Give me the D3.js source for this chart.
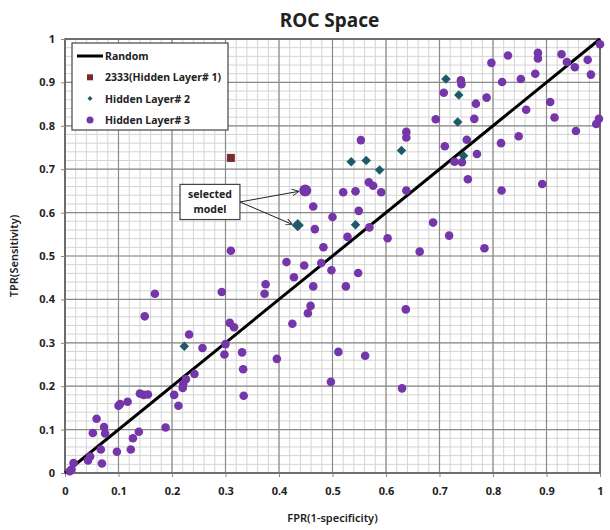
<!DOCTYPE html>
<html>
<head>
<meta charset="utf-8">
<script src="https://cdn.jsdelivr.net/npm/d3@7"></script>
<style>
  html, body { margin: 0; padding: 0; background: #fff; overflow: hidden; }
  svg { display: block; }
  text { font-family: "Noto Sans", "Open Sans", sans-serif; fill: #222; }
</style>
</head>
<body>
<div id="chart"></div>
<script>
"use strict";

// Data: [FPR, TPR]
const layer1 = [[0.31, 0.726]];

const layer2 = [
  [0.535, 0.717], [0.563, 0.72], [0.588, 0.698], [0.629, 0.743], [0.543, 0.572],
  [0.712, 0.908], [0.736, 0.871], [0.734, 0.809], [0.745, 0.731], [0.223, 0.292]
];

const layer3 = [
  [0.31, 0.512], [0.553, 0.767], [0.638, 0.786], [0.638, 0.773], [0.568, 0.67],
  [0.576, 0.662], [0.591, 0.647], [0.638, 0.651], [0.52, 0.647], [0.543, 0.649],
  [0.464, 0.614], [0.549, 0.604], [0.5, 0.59], [0.467, 0.562], [0.569, 0.566],
  [0.528, 0.544], [0.603, 0.541], [0.483, 0.52], [0.663, 0.51], [1.0, 0.988],
  [0.828, 0.962], [0.884, 0.968], [0.884, 0.955], [0.928, 0.965], [0.938, 0.947],
  [0.953, 0.935], [0.977, 0.952], [0.983, 0.918], [0.797, 0.945], [0.879, 0.92],
  [0.852, 0.908], [0.817, 0.901], [0.74, 0.905], [0.741, 0.896], [0.708, 0.876],
  [0.788, 0.865], [0.768, 0.851], [0.907, 0.855], [0.862, 0.837], [0.693, 0.815],
  [0.765, 0.816], [0.915, 0.819], [0.998, 0.816], [0.993, 0.804], [0.955, 0.788],
  [0.751, 0.768], [0.848, 0.776], [0.815, 0.76], [0.71, 0.753], [0.77, 0.735],
  [0.728, 0.717], [0.742, 0.716], [0.753, 0.677], [0.816, 0.651], [0.892, 0.666],
  [0.688, 0.577], [0.718, 0.547], [0.784, 0.518],
  [0.414, 0.486], [0.447, 0.478], [0.479, 0.484], [0.498, 0.467], [0.548, 0.461],
  [0.428, 0.451], [0.375, 0.435], [0.373, 0.413], [0.464, 0.43], [0.525, 0.43],
  [0.459, 0.385], [0.454, 0.368], [0.425, 0.344], [0.637, 0.377], [0.331, 0.278],
  [0.396, 0.263], [0.511, 0.279], [0.561, 0.27], [0.333, 0.239], [0.497, 0.21],
  [0.334, 0.178], [0.63, 0.195],
  [0.168, 0.413], [0.293, 0.417], [0.149, 0.361], [0.232, 0.319], [0.257, 0.288],
  [0.308, 0.346], [0.316, 0.336], [0.3, 0.297], [0.298, 0.273], [0.242, 0.228],
  [0.226, 0.216], [0.221, 0.205], [0.22, 0.196], [0.204, 0.18], [0.212, 0.155],
  [0.14, 0.183], [0.147, 0.18], [0.155, 0.181], [0.1, 0.155], [0.103, 0.159],
  [0.117, 0.164], [0.188, 0.105], [0.059, 0.125], [0.073, 0.106], [0.052, 0.092],
  [0.075, 0.091], [0.138, 0.095], [0.127, 0.08], [0.067, 0.054], [0.097, 0.049],
  [0.123, 0.054], [0.047, 0.038], [0.043, 0.029], [0.069, 0.022], [0.016, 0.023],
  [0.012, 0.008], [0.009, 0.004]
];

// the two "selected model" points
const selected2 = [0.435, 0.571];
const selected3 = [0.449, 0.651];

const randomLine = [[0, 0], [1, 1]];
const tickValues = d3.range(0, 11).map((i) => i / 10);
const minorValues = d3.range(0, 51).map((i) => i / 50);

const legendItems = ["Random", "2333(Hidden Layer# 1)", "Hidden Layer# 2", "Hidden Layer# 3"];

const colors = { l1: "#7b2a2c", l2: "#1f5a68", l3: "#7436a8" };

// Dimensions
const w = 610;
const h = 530;
const margin = { top: 39, left: 65, right: 10, bottom: 57 };
const innerWidth = 535;
const innerHeight = 434;

const svg = d3.select("#chart").append("svg").attr("width", w).attr("height", h);

const x = d3.scaleLinear().domain([0, 1]).range([0, innerWidth]);
const y = d3.scaleLinear().domain([0, 1]).range([innerHeight, 0]);

const g = svg.append("g").attr("transform", `translate(${margin.left}, ${margin.top})`);

// minor grid
g.append("g")
  .selectAll("line")
  .data(minorValues)
  .enter()
  .append("line")
  .attr("x1", (d) => x(d)).attr("x2", (d) => x(d))
  .attr("y1", 0).attr("y2", innerHeight)
  .attr("stroke", "#d4d4d4").attr("stroke-width", 1);
g.append("g")
  .selectAll("line")
  .data(minorValues)
  .enter()
  .append("line")
  .attr("y1", (d) => y(d)).attr("y2", (d) => y(d))
  .attr("x1", 0).attr("x2", innerWidth)
  .attr("stroke", "#d4d4d4").attr("stroke-width", 1);

// major grid
g.append("g")
  .selectAll("line")
  .data(tickValues)
  .enter()
  .append("line")
  .attr("x1", (d) => x(d)).attr("x2", (d) => x(d))
  .attr("y1", 0).attr("y2", innerHeight)
  .attr("stroke", "#8a8a8a").attr("stroke-width", 1.2);
g.append("g")
  .selectAll("line")
  .data(tickValues)
  .enter()
  .append("line")
  .attr("y1", (d) => y(d)).attr("y2", (d) => y(d))
  .attr("x1", 0).attr("x2", innerWidth)
  .attr("stroke", "#8a8a8a").attr("stroke-width", 1.2);

// frame
g.append("rect")
  .attr("width", innerWidth).attr("height", innerHeight)
  .attr("fill", "none").attr("stroke", "#555").attr("stroke-width", 1.5);

// axes
const xAxis = g.append("g")
  .attr("transform", `translate(0, ${innerHeight})`)
  .call(d3.axisBottom(x).tickValues(tickValues).tickSize(4).tickPadding(10).tickFormat(d3.format("")));
const yAxis = g.append("g")
  .call(d3.axisLeft(y).tickValues(tickValues).tickSize(4).tickPadding(6).tickFormat(d3.format("")));
[xAxis, yAxis].forEach((a) => {
  a.select(".domain").remove();
  a.selectAll(".tick line").attr("stroke", "#888");
  a.selectAll(".tick text")
    .attr("font-size", 11)
    .attr("font-weight", "bold")
    .attr("font-family", "\"Noto Sans\", sans-serif")
    .attr("fill", "#222");
});

// random line
g.append("line")
  .attr("x1", x(randomLine[0][0])).attr("y1", y(randomLine[0][1]))
  .attr("x2", x(randomLine[1][0])).attr("y2", y(randomLine[1][1]))
  .attr("stroke", "#000").attr("stroke-width", 3);

// hidden layer 3 circles
g.append("g")
  .selectAll("circle")
  .data(layer3)
  .enter()
  .append("circle")
  .attr("cx", (d) => x(d[0]))
  .attr("cy", (d) => y(d[1]))
  .attr("r", 4.3)
  .attr("fill", colors.l3);

// hidden layer 2 diamonds
const diamond = d3.symbol().type(d3.symbolDiamond2);
g.append("g")
  .selectAll("path")
  .data(layer2)
  .enter()
  .append("path")
  .attr("transform", (d) => `translate(${x(d[0])}, ${y(d[1])})`)
  .attr("d", diamond.size(58)())
  .attr("fill", colors.l2);

// hidden layer 1 square
g.append("g")
  .selectAll("rect")
  .data(layer1)
  .enter()
  .append("rect")
  .attr("x", (d) => x(d[0]) - 4)
  .attr("y", (d) => y(d[1]) - 4)
  .attr("width", 8).attr("height", 8)
  .attr("fill", colors.l1);

// selected models (bigger markers)
g.append("circle")
  .attr("cx", x(selected3[0])).attr("cy", y(selected3[1]))
  .attr("r", 6).attr("fill", colors.l3);
g.append("path")
  .attr("transform", `translate(${x(selected2[0])}, ${y(selected2[1])})`)
  .attr("d", diamond.size(95)())
  .attr("fill", colors.l2);

// annotation box + arrows
svg.append("defs").append("marker")
  .attr("id", "arrow")
  .attr("viewBox", "0 0 10 10")
  .attr("refX", 9).attr("refY", 5)
  .attr("markerWidth", 7).attr("markerHeight", 7)
  .attr("orient", "auto")
  .append("path")
  .attr("d", "M0,0 L10,5 L0,10")
  .attr("fill", "none").attr("stroke", "#222").attr("stroke-width", 1.3);

const box = { x0: x(0.215), x1: x(0.327), y0: y(0.665), y1: y(0.584) };
g.append("rect")
  .attr("x", box.x0).attr("y", box.y0)
  .attr("width", box.x1 - box.x0).attr("height", box.y1 - box.y0)
  .attr("fill", "#fff").attr("stroke", "#444").attr("stroke-width", 1.2);
const boxText = g.append("text")
  .attr("text-anchor", "middle")
  .attr("font-size", 10.5)
  .attr("font-weight", "bold");
boxText.append("tspan").attr("x", (box.x0 + box.x1) / 2).attr("y", box.y0 + 14).text("selected");
boxText.append("tspan").attr("x", (box.x0 + box.x1) / 2).attr("y", box.y0 + 29).text("model");

const startY = (box.y0 + box.y1) / 2;
g.append("line")
  .attr("x1", box.x1).attr("y1", startY)
  .attr("x2", x(selected3[0]) - 7).attr("y2", y(selected3[1]) + 1)
  .attr("stroke", "#222").attr("stroke-width", 1)
  .attr("marker-end", "url(#arrow)");
g.append("line")
  .attr("x1", box.x1).attr("y1", startY)
  .attr("x2", x(selected2[0]) - 6).attr("y2", y(selected2[1]) - 1)
  .attr("stroke", "#222").attr("stroke-width", 1)
  .attr("marker-end", "url(#arrow)");

// legend
const legend = svg.append("g").attr("transform", "translate(72, 43)");
legend.append("rect")
  .attr("width", 156).attr("height", 87)
  .attr("fill", "#fff").attr("stroke", "#444").attr("stroke-width", 1.2);
const rows = legend.selectAll("g.item")
  .data(legendItems)
  .enter()
  .append("g")
  .attr("class", "item")
  .attr("transform", (d, i) => `translate(0, ${13 + i * 21.3})`);
rows.append("text")
  .attr("x", 33)
  .attr("y", 4)
  .attr("font-size", 10.5)
  .attr("font-weight", "bold")
  .text((d) => d);
rows.filter((d, i) => i === 0).append("line")
  .attr("x1", 5).attr("x2", 31).attr("y1", 0).attr("y2", 0)
  .attr("stroke", "#000").attr("stroke-width", 3);
rows.filter((d, i) => i === 1).append("rect")
  .attr("x", 15).attr("y", -3).attr("width", 6).attr("height", 6)
  .attr("fill", colors.l1);
rows.filter((d, i) => i === 2).append("path")
  .attr("transform", "translate(18, 0)")
  .attr("d", diamond.size(16)())
  .attr("fill", colors.l2);
rows.filter((d, i) => i === 3).append("circle")
  .attr("cx", 18).attr("cy", 0).attr("r", 3.5)
  .attr("fill", colors.l3);

// titles
svg.append("text")
  .attr("x", margin.left + innerWidth / 2 - 3)
  .attr("y", 27)
  .attr("text-anchor", "middle")
  .attr("font-size", 19)
  .attr("font-weight", "bold")
  .text("ROC Space");
svg.append("text")
  .attr("x", margin.left + innerWidth / 2)
  .attr("y", 522)
  .attr("text-anchor", "middle")
  .attr("font-size", 11)
  .attr("font-weight", 600)
  .text("FPR(1-specificity)");
svg.append("text")
  .attr("transform", `translate(18, ${margin.top + innerHeight / 2}) rotate(-90)`)
  .attr("text-anchor", "middle")
  .attr("font-size", 11)
  .attr("font-weight", 600)
  .text("TPR(Sensitivity)");
</script>
</body>
</html>
